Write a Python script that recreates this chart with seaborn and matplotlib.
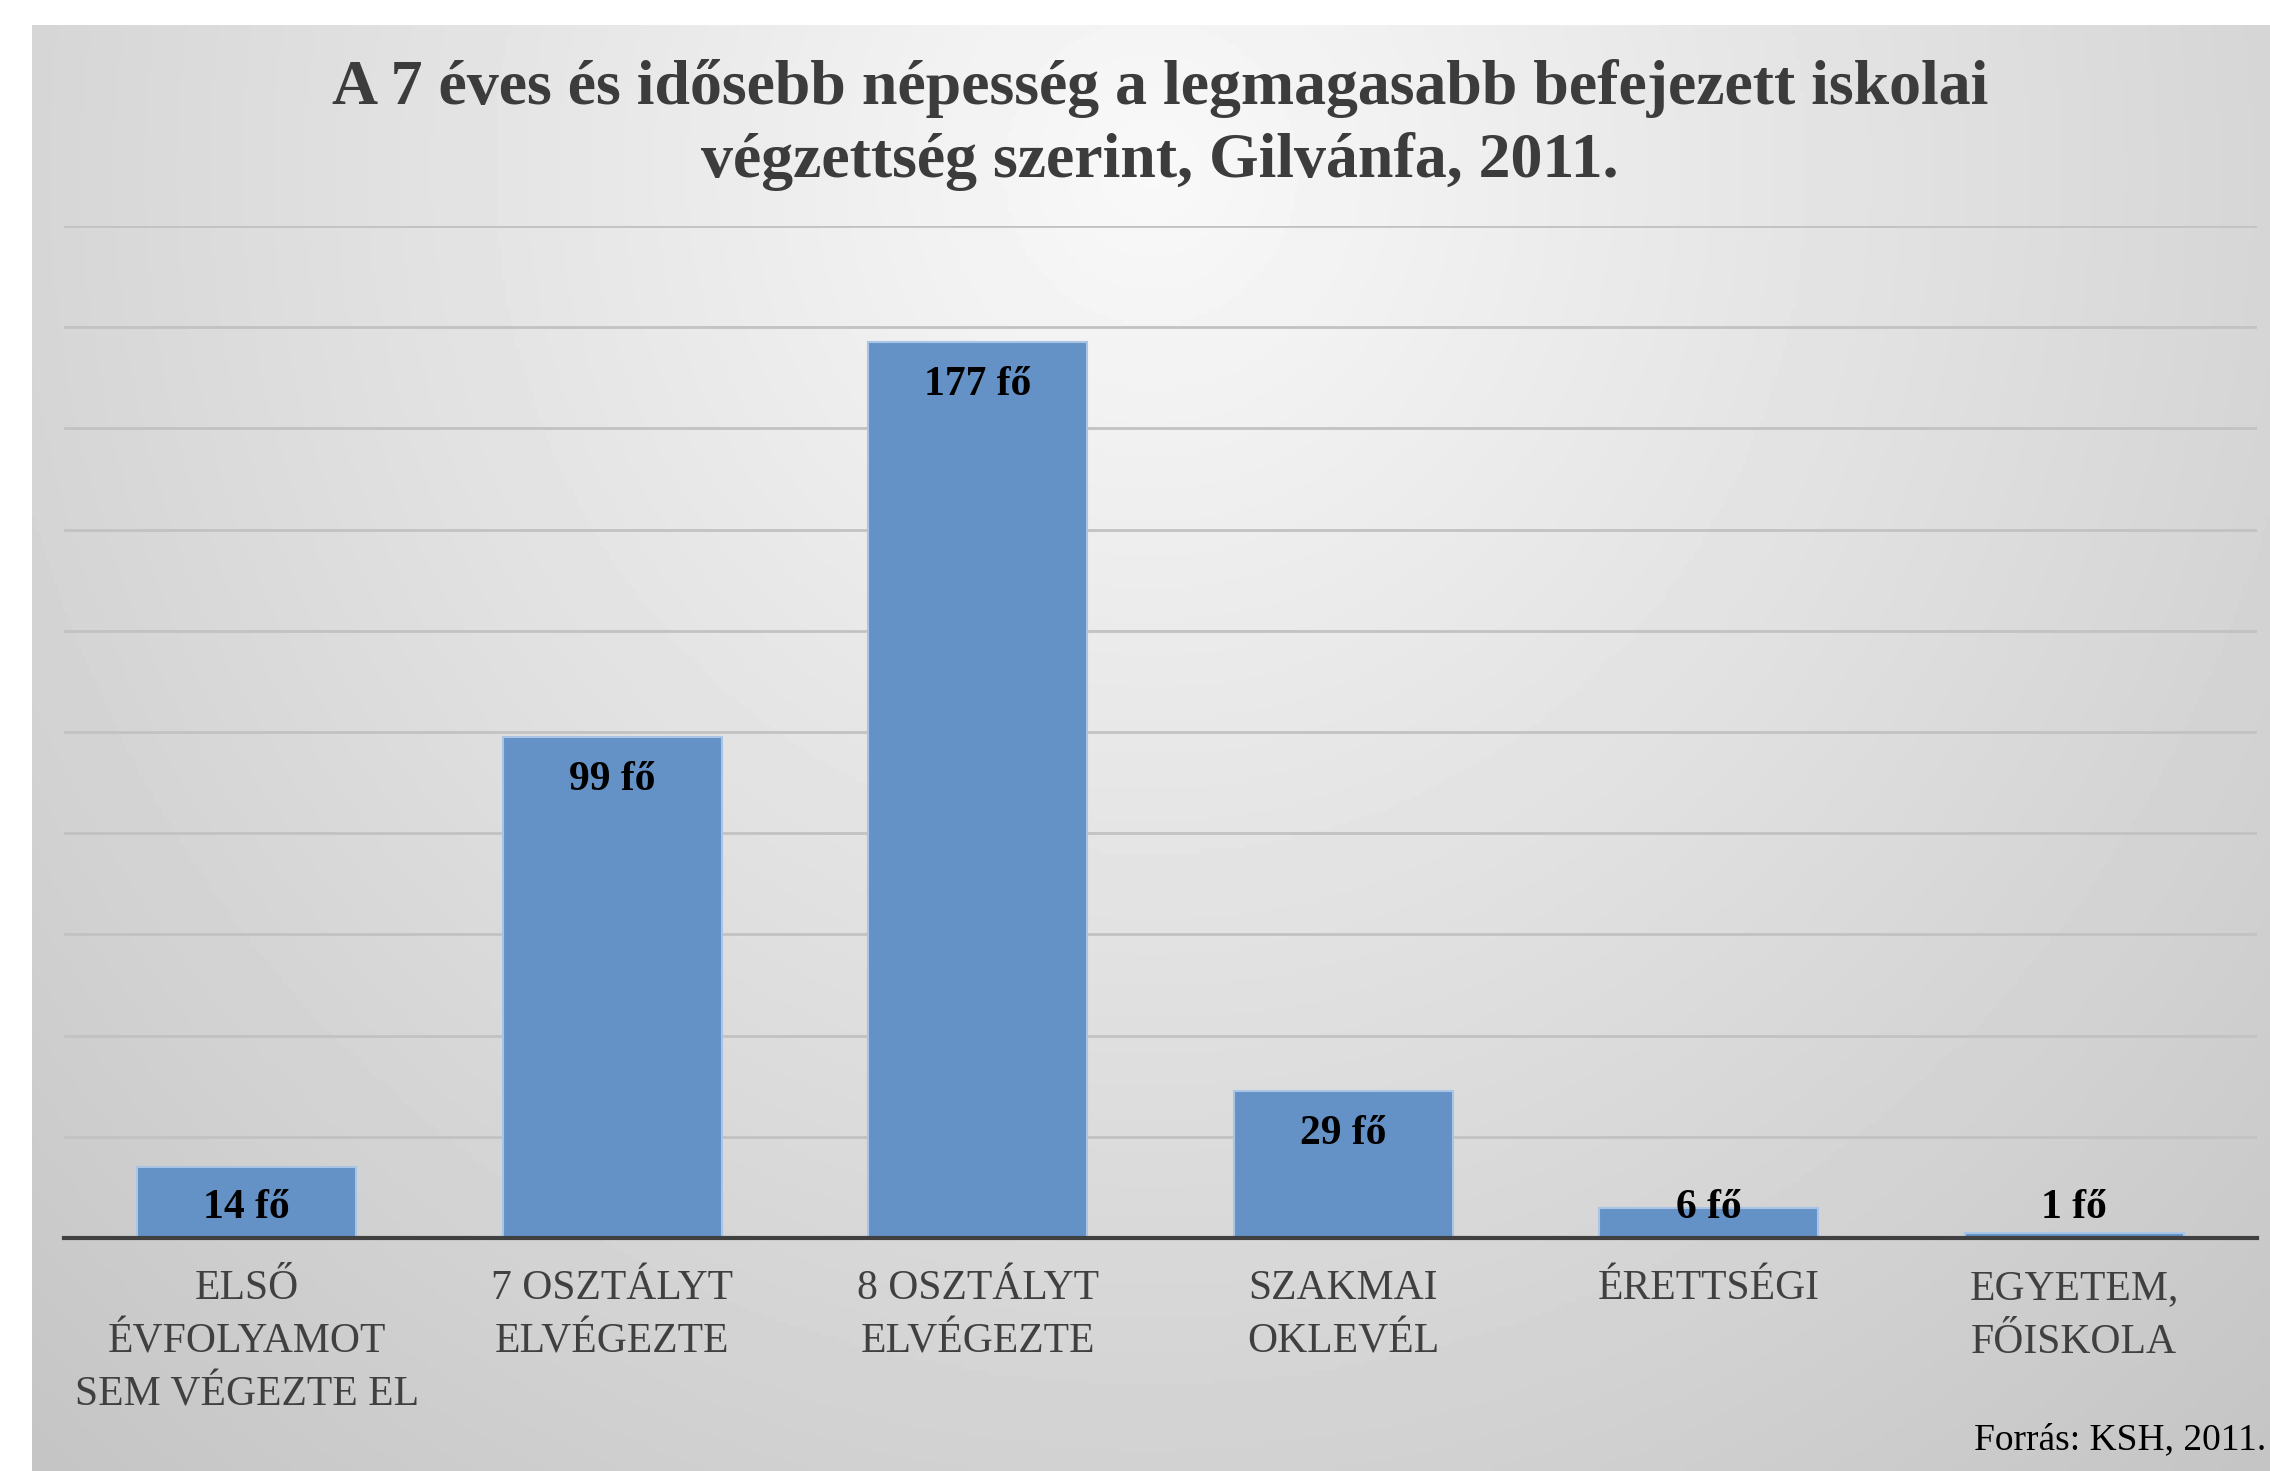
import numpy as np
import pandas as pd
import matplotlib
matplotlib.use("Agg")
import matplotlib.pyplot as plt
import seaborn as sns

categories = ["ELSŐ\nÉVFOLYAMOT\nSEM VÉGEZTE EL", "7 OSZTÁLYT\nELVÉGEZTE", "8 OSZTÁLYT\nELVÉGEZTE",
              "SZAKMAI\nOKLEVÉL", "ÉRETTSÉGI", "EGYETEM,\nFŐISKOLA"]
values = [14, 99, 177, 29, 6, 1]
value_labels = [f"{v} fő" for v in values]
title = "A 7 éves és idősebb népesség a legmagasabb befejezett iskolai\nvégzettség szerint, Gilvánfa, 2011."
source = "Forrás: KSH, 2011."

sns.set_theme(style="white")
plt.rcParams['font.family'] = ['Liberation Serif', 'DejaVu Serif']

W, H = 2270, 1471
fig = plt.figure(figsize=(W / 100, H / 100), dpi=100)
fig.patch.set_facecolor("white")

# background panel with soft radial gradient
bg = fig.add_axes([32 / W, 0, 1 - 32 / W, 1 - 25 / H])
ny, nx = 300, 500
yy, xx = np.mgrid[0:1:ny * 1j, 0:1:nx * 1j]
d = np.sqrt(((xx - 0.5) / 0.62) ** 2 + ((yy - 0.1) / 1.0) ** 2)
val = np.clip(0.975 - 0.17 * d, 0, 1)
bg.imshow(val, cmap="gray", vmin=0, vmax=1, aspect="auto", extent=[0, 1, 0, 1], origin="upper")
bg.set_axis_off()

df = pd.DataFrame({"cat": categories, "val": values})
ax = fig.add_axes([64 / W, 1 - 1238 / H, (2257 - 64) / W, (1238 - 226) / H])
ax.patch.set_alpha(0)
sns.barplot(data=df, x="cat", y="val", ax=ax, color="#6592c6", width=0.6, saturation=1,
            edgecolor="#a9c4e4", linewidth=1.5, zorder=3)
ax.set_xlim(-0.5, len(categories) - 0.5)
ax.set_ylim(0, 200)
ax.set_yticks(range(0, 201, 20))
ax.yaxis.grid(True, color="#c2c2c2", lw=2)
ax.xaxis.grid(False)
ax.set_axisbelow(True)
ax.tick_params(axis="y", left=False, labelleft=False)
ax.tick_params(axis="x", length=0, pad=23, labelsize=30, labelcolor="#404040")
for lab in ax.get_xticklabels():
    lab.set_linespacing(1.5)
ax.set_xlabel("")
ax.set_ylabel("")
for s in ["top", "right", "left"]:
    ax.spines[s].set_visible(False)
ax.spines["bottom"].set_color("#404040")
ax.spines["bottom"].set_linewidth(3)
ax.spines["bottom"].set_zorder(4)

for i, (v, lab) in enumerate(zip(values, value_labels)):
    ax.text(i, max(v - 8.5, 6), lab, ha="center", va="center", fontsize=30,
            fontweight="bold", color="black", zorder=5)

fig.text(1160 / W, 1 - 125 / H, title, ha="center", va="center", fontsize=46,
         fontweight="bold", color="#3c3c3c", linespacing=1.3)
fig.text(2266 / W, 1 - 1440 / H, source, ha="right", va="center", fontsize=27, color="black")

fig.savefig("out.png", dpi=100)
